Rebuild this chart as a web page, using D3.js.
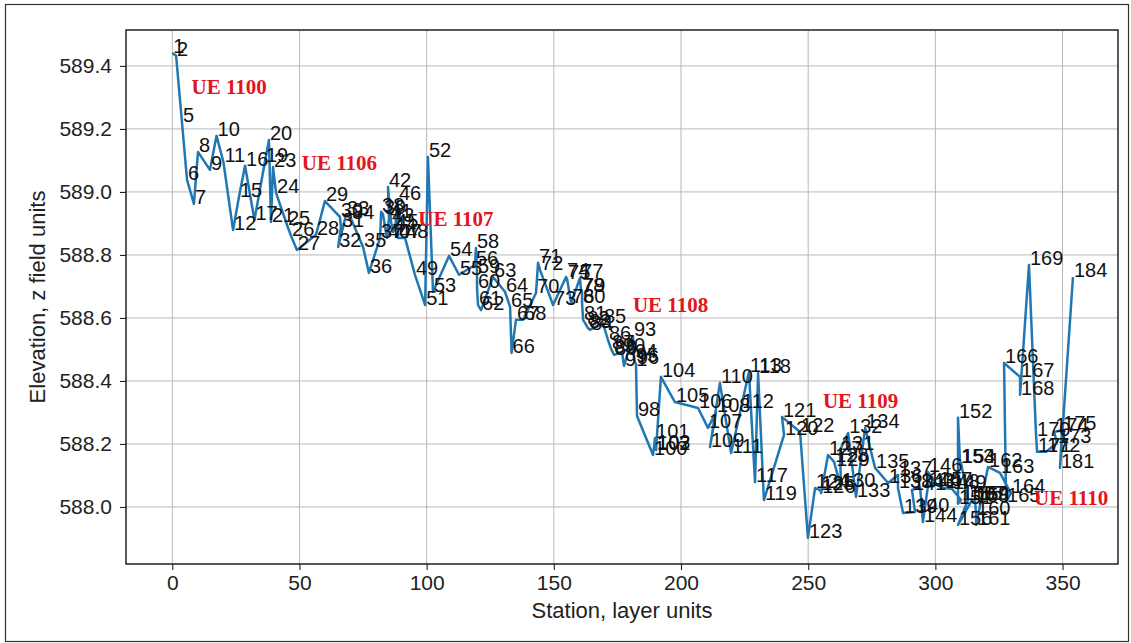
<!DOCTYPE html>
<html><head><meta charset="utf-8">
<script src="https://cdn.jsdelivr.net/npm/d3@7"></script>
<style>body{margin:0;background:#fff}svg{display:block}</style>
</head><body>
<svg id="chart" width="1131" height="643"></svg>
<script>
const pointIds=[1,2,5,6,7,8,9,10,11,12,15,16,17,19,20,21,23,24,25,26,27,28,29,30,31,32,33,34,35,36,37,38,39,40,41,42,43,44,45,46,47,48,49,51,52,53,54,55,56,58,59,60,61,62,63,64,65,66,67,68,70,71,72,73,74,75,76,77,78,79,80,81,82,83,84,85,86,87,88,89,90,91,93,94,95,96,98,100,101,102,103,104,105,106,107,108,109,110,111,112,113,117,118,119,120,121,122,123,124,125,126,127,128,129,130,131,132,133,134,135,136,137,138,139,140,141,143,144,145,146,147,148,149,150,151,152,153,154,155,156,157,158,159,160,161,162,163,164,165,166,167,168,169,170,171,172,173,174,175,181,184];
const stations=[0.0,1.5,3.8,5.8,8.5,10.1,14.8,17.4,20.1,23.9,26.2,28.6,32.3,36.4,38.0,38.8,39.6,40.8,45.1,46.7,49.0,56.5,60.0,65.9,66.3,65.2,68.3,70.3,75.0,77.3,81.7,82.1,82.8,84.4,85.2,84.8,86.0,86.8,87.6,88.7,88.7,91.5,95.4,99.4,100.5,102.5,108.8,112.7,119.0,119.4,119.8,119.8,120.2,121.4,126.1,130.8,132.8,133.4,135.1,137.9,143.0,143.8,144.6,149.7,154.8,155.2,156.8,160.3,160.7,161.1,161.1,161.5,162.7,163.4,164.2,169.3,171.3,172.5,173.3,173.7,176.8,177.6,181.1,181.5,181.9,182.3,182.7,189.0,189.8,190.2,190.2,192.1,197.6,206.7,210.6,213.8,211.4,215.3,219.7,223.6,226.7,229.1,230.3,232.6,240.5,239.7,246.8,249.9,252.7,254.7,255.1,257.8,260.2,260.6,262.9,262.5,265.7,268.8,272.4,276.3,281.4,285.3,285.3,287.3,292.0,290.8,294.0,295.1,297.1,297.1,301.0,303.8,306.6,310.1,308.9,308.9,309.7,310.1,312.8,308.9,314.4,315.6,315.6,316.0,316.0,320.7,325.4,329.7,327.8,327.0,333.3,333.3,336.8,339.6,340.0,343.5,347.8,346.7,349.8,349.0,354.1];
const elevations=[589.441,589.432,589.222,589.038,588.962,589.127,589.070,589.178,589.095,588.879,588.984,589.083,588.911,589.095,589.165,588.905,589.079,588.997,588.895,588.860,588.816,588.864,588.971,588.921,588.889,588.825,588.927,588.914,588.825,588.743,588.854,588.937,588.930,588.854,588.917,589.016,588.905,588.873,588.886,588.975,588.854,588.854,588.737,588.641,589.111,588.683,588.797,588.737,588.768,588.822,588.743,588.695,588.641,588.625,588.730,588.683,588.635,588.489,588.594,588.594,588.679,588.775,588.752,588.641,588.730,588.724,588.648,588.727,588.683,588.683,588.648,588.594,588.578,588.568,588.562,588.584,588.530,588.502,588.489,588.483,588.492,588.448,588.543,588.473,588.460,588.454,588.289,588.165,588.219,588.181,588.184,588.413,588.333,588.314,588.251,588.302,588.190,588.394,588.171,588.314,588.429,588.079,588.425,588.022,588.229,588.286,588.238,587.902,588.060,588.054,588.044,588.165,588.143,588.130,588.063,588.181,588.235,588.032,588.251,588.124,588.076,588.102,588.060,587.981,587.984,588.054,588.063,587.952,588.067,588.111,588.067,588.060,588.057,588.022,588.010,588.283,588.140,588.140,588.022,587.943,588.022,588.016,588.022,587.975,587.943,588.127,588.108,588.044,588.016,588.457,588.413,588.356,588.768,588.225,588.175,588.175,588.203,588.238,588.244,588.124,588.730];
const ueLabels=["UE 1100","UE 1106","UE 1107","UE 1108","UE 1109","UE 1110"];
const ueStations=[7.6,50.9,96.7,181.1,255.8,338.8];
const ueElevations=[589.311,589.070,588.892,588.619,588.314,588.006];
const xTicks=[0,50,100,150,200,250,300,350];
const yTicks=[588.0,588.2,588.4,588.6,588.8,589.0,589.2,589.4];
const xLabel="Station, layer units";
const yLabel="Elevation, z field units";

const svg=d3.select("#chart");
const L=126,R=1118,T=30,B=564;
const x=d3.scaleLinear().domain([-18.2,371.8]).range([L,R]);
const y=d3.scaleLinear().domain([587.819,589.514]).range([B,T]);
const sans="'Liberation Sans', Arial, sans-serif";
const serif="'Liberation Serif', 'Times New Roman', serif";

svg.append("rect").attr("x",0).attr("y",0).attr("width",1131).attr("height",643).attr("fill","#fff");
svg.append("rect").attr("x",5.5).attr("y",4.5).attr("width",1123).attr("height",637)
  .attr("fill","none").attr("stroke","#333").attr("stroke-width",1.2);

const grid=svg.append("g");
grid.selectAll("line.gx").data(xTicks).join("line").attr("class","gx")
  .attr("x1",d=>x(d)).attr("x2",d=>x(d)).attr("y1",T).attr("y2",B)
  .attr("stroke","#b8b8b8").attr("stroke-width",1);
grid.selectAll("line.gy").data(yTicks).join("line").attr("class","gy")
  .attr("y1",d=>y(d)).attr("y2",d=>y(d)).attr("x1",L).attr("x2",R)
  .attr("stroke","#b8b8b8").attr("stroke-width",1);

const pts=pointIds.map((id,i)=>({id,s:stations[i],e:elevations[i]}));
svg.append("path").datum(pts)
  .attr("d",d3.line().x(d=>x(d.s)).y(d=>y(d.e)))
  .attr("fill","none").attr("stroke","#1f77b4").attr("stroke-width",2.5)
  .attr("stroke-linejoin","round");

svg.append("g").selectAll("text").data(pts).join("text")
  .attr("x",d=>x(d.s)+1).attr("y",d=>y(d.e))
  .attr("font-family",sans).attr("font-size",20).attr("fill","#111")
  .text(d=>d.id);

svg.append("g").selectAll("text").data(ueLabels).join("text")
  .attr("x",(d,i)=>x(ueStations[i])).attr("y",(d,i)=>y(ueElevations[i]))
  .attr("font-family",serif).attr("font-weight","bold").attr("font-size",21)
  .attr("fill","#e3141e").text(d=>d);

svg.append("rect").attr("x",L).attr("y",T).attr("width",R-L).attr("height",B-T)
  .attr("fill","none").attr("stroke","#111").attr("stroke-width",1.4);

const gx=svg.append("g").attr("transform",`translate(0,${B})`)
  .call(d3.axisBottom(x).tickValues(xTicks).tickSize(6).tickPadding(5).tickFormat(d3.format("d")));
const gy=svg.append("g").attr("transform",`translate(${L},0)`)
  .call(d3.axisLeft(y).tickValues(yTicks).tickSize(6).tickPadding(8).tickFormat(d3.format(".1f")));
[gx,gy].forEach(g=>{
  g.select(".domain").remove();
  g.selectAll(".tick line").attr("stroke","#222").attr("stroke-width",1.1);
  g.selectAll(".tick text").attr("font-family",sans).attr("font-size",21).attr("fill","#222");
});

svg.append("text").attr("x",(L+R)/2).attr("y",618).attr("text-anchor","middle")
  .attr("font-family",sans).attr("font-size",22).attr("fill","#222").text(xLabel);
svg.append("text").attr("transform",`translate(45,${(T+B)/2}) rotate(-90)`).attr("text-anchor","middle")
  .attr("font-family",sans).attr("font-size",22).attr("fill","#222").text(yLabel);
</script>
</body></html>
